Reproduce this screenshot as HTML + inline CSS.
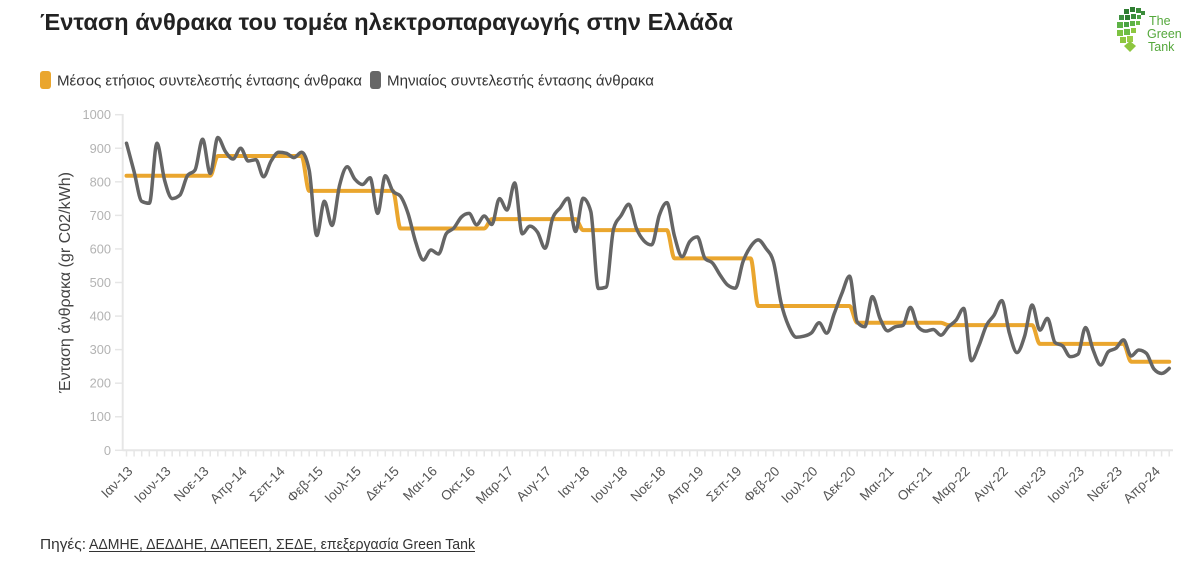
<!DOCTYPE html>
<html><head><meta charset="utf-8">
<style>
html,body{margin:0;padding:0;background:#fff;}
body{width:1185px;height:561px;overflow:hidden;font-family:"Liberation Sans","DejaVu Sans",sans-serif;}
svg{display:block;}
</style></head>
<body>
<svg id="c" width="1185" height="561" viewBox="0 0 1185 561" xmlns="http://www.w3.org/2000/svg" font-family="Liberation Sans, DejaVu Sans, sans-serif">
<rect width="1185" height="561" fill="#fff"/>
<text x="40" y="30" font-size="23" font-weight="bold" fill="#222" textLength="693" lengthAdjust="spacingAndGlyphs">Ένταση άνθρακα του τομέα ηλεκτροπαραγωγής στην Ελλάδα</text>

<!-- logo -->
<g>
<rect x="1124" y="9" width="5" height="5" fill="#2f7d32"/>
<rect x="1130" y="7" width="5" height="5" fill="#2f7d32"/>
<rect x="1136" y="8" width="5" height="5" fill="#3b8c3a"/>
<rect x="1141" y="11" width="4" height="4" fill="#3b8c3a"/>
<rect x="1119" y="15" width="5" height="5" fill="#3e9140"/>
<rect x="1125" y="15" width="5" height="5" fill="#2f7d32"/>
<rect x="1131" y="14" width="5" height="5" fill="#3b8c3a"/>
<rect x="1137" y="15" width="4" height="4" fill="#4aa244"/>
<rect x="1117" y="22" width="6" height="6" fill="#5db246"/>
<rect x="1124" y="22" width="5" height="5" fill="#4aa244"/>
<rect x="1130" y="21" width="5" height="5" fill="#5db246"/>
<rect x="1136" y="21" width="4" height="4" fill="#6cbd45"/>
<rect x="1117" y="30" width="6" height="6" fill="#7dc242"/>
<rect x="1124" y="29" width="6" height="6" fill="#6cbd45"/>
<rect x="1131" y="28" width="5" height="5" fill="#8dc63f"/>
<rect x="1120" y="37" width="6" height="6" fill="#8dc63f"/>
<rect x="1127" y="36" width="6" height="6" fill="#9acd46"/>
<polygon points="1130,41 1136,46 1130,52 1124,46" fill="#8dc63f"/>
<text x="1149" y="25" font-size="12.5" fill="#55a83c">The</text>
<text x="1147" y="38" font-size="12.5" fill="#55a83c">Green</text>
<text x="1148" y="51" font-size="12.5" fill="#55a83c">Tank</text>
</g>

<!-- legend -->
<rect x="40" y="71" width="11" height="18" rx="3" fill="#EAA62E"/>
<text x="57" y="85.5" font-size="15" fill="#333" textLength="305" lengthAdjust="spacingAndGlyphs">Μέσος ετήσιος συντελεστής έντασης άνθρακα</text>
<rect x="370" y="71" width="11" height="18" rx="3" fill="#666"/>
<text x="387" y="85.5" font-size="15" fill="#333" textLength="267" lengthAdjust="spacingAndGlyphs">Μηνιαίος συντελεστής έντασης άνθρακα</text>

<!-- y title -->
<text transform="translate(70,282.5) rotate(-90)" text-anchor="middle" font-size="16" fill="#444" textLength="221" lengthAdjust="spacingAndGlyphs">Ένταση άνθρακα (gr C02/kWh)</text>

<g id="axes"></g>
<path id="orange" d="" fill="none" stroke="#EAA62E" stroke-width="4" stroke-linejoin="round" stroke-linecap="round"/>
<path id="gray" d="" fill="none" stroke="#656565" stroke-width="3.5" stroke-linejoin="round" stroke-linecap="round"/>
<g id="xl"></g>

<!-- footer -->
<text x="40" y="549" font-size="14.5" fill="#333" textLength="46" lengthAdjust="spacingAndGlyphs">Πηγές:</text>
<text x="89" y="549" font-size="14.5" fill="#333" textLength="386" lengthAdjust="spacingAndGlyphs">ΑΔΜΗΕ, ΔΕΔΔΗΕ, ΔΑΠΕΕΠ, ΣΕΔΕ, επεξεργασία Green Tank</text>
<line x1="89" y1="551.5" x2="475" y2="551.5" stroke="#333" stroke-width="1"/>
</svg>
<script>
(function(){
var NS="http://www.w3.org/2000/svg";
var G=[915,830,742,736,915,805,750,760,818,835,
927,825,932,890,868,900,862,866,815,862,
888,885,872,888,835,640,742,670,790,845,
808,792,812,706,818,772,757,705,620,567,
597,585,645,662,695,706,672,698,673,750,
716,797,645,668,650,602,692,723,751,652,
751,712,482,486,660,700,733,661,624,612,
700,738,638,577,622,636,572,558,522,492,
483,562,607,627,602,562,440,370,337,340,
350,380,349,408,468,519,383,368,458,393,
356,368,372,426,368,355,360,343,368,388,
423,267,312,373,403,446,349,291,340,433,
358,393,321,311,279,286,366,299,254,294,
304,329,281,299,289,242,229,244];
var O=[];
function rep(v,n){for(var k=0;k<n;k++)O.push(v);}
rep(818,12);rep(877,12);rep(773,12);rep(661,12);rep(689,12);rep(656,12);
rep(572,11);rep(430,13);rep(380,12);rep(373,12);rep(317,12);rep(264,6);
var X0=126.5,DX=7.611,Y0=450.3,K=0.3356;
function px(i){return X0+i*DX;}
function py(v){return Y0-v*K;}
function f(n){return n.toFixed(2);}
function mono(vals){
  var n=vals.length,h=DX,y=vals.map(py),s=[],t=[];
  for(var i=0;i<n-1;i++)s.push((y[i+1]-y[i])/h);
  for(var i=1;i<n-1;i++){
    var s0=s[i-1],s1=s[i],p=(s0+s1)/2;
    t[i]=(Math.sign(s0)+Math.sign(s1))*Math.min(Math.abs(s0),Math.abs(s1),0.5*Math.abs(p));
  }
  t[0]=(3*s[0]-t[1])/2; t[n-1]=(3*s[n-2]-t[n-2])/2;
  var d="M"+f(px(0))+","+f(y[0]);
  for(var i=0;i<n-1;i++){
    d+=" C"+f(px(i)+h/3)+","+f(y[i]+t[i]*h/3)+" "+f(px(i+1)-h/3)+","+f(y[i+1]-t[i+1]*h/3)+" "+f(px(i+1))+","+f(y[i+1]);
  }
  return d;
}
document.getElementById("gray").setAttribute("d",mono(G));
document.getElementById("orange").setAttribute("d",mono(O));
var ax=document.getElementById("axes");
function el(tag,attrs,txt){var e=document.createElementNS(NS,tag);for(var k in attrs)e.setAttribute(k,attrs[k]);if(txt!=null)e.textContent=txt;return e;}
ax.appendChild(el("line",{x1:122.7,y1:114,x2:122.7,y2:451,stroke:"#e6e6e6","stroke-width":2}));
ax.appendChild(el("line",{x1:122.7,y1:450.3,x2:1173,y2:450.3,stroke:"#e6e6e6","stroke-width":2}));
for(var v=0;v<=1000;v+=100){
  var yy=py(v);
  ax.appendChild(el("line",{x1:115,y1:yy,x2:122.7,y2:yy,stroke:"#e6e6e6","stroke-width":1.5}));
  ax.appendChild(el("text",{x:111,y:yy+4.5,"text-anchor":"end","font-size":12.8,fill:"#b3b3b3"},String(v)));
}
for(var i=0;i<138;i++){
  ax.appendChild(el("line",{x1:px(i),y1:450.3,x2:px(i),y2:456.5,stroke:"#e6e6e6","stroke-width":1.5}));
}
var L=["Ιαν-13","Ιουν-13","Νοε-13","Απρ-14","Σεπ-14","Φεβ-15","Ιουλ-15","Δεκ-15","Μαι-16","Οκτ-16","Μαρ-17","Αυγ-17","Ιαν-18","Ιουν-18","Νοε-18","Απρ-19","Σεπ-19","Φεβ-20","Ιουλ-20","Δεκ-20","Μαι-21","Οκτ-21","Μαρ-22","Αυγ-22","Ιαν-23","Ιουν-23","Νοε-23","Απρ-24"];
var xl=document.getElementById("xl");
for(var j=0;j<L.length;j++){
  var x=px(j*5)+7,y=472;
  xl.appendChild(el("text",{x:x,y:y,"text-anchor":"end","font-size":13.5,fill:"#555",transform:"rotate(-45 "+x+" "+y+")"},L[j]));
}
})();
</script>
</body></html>
